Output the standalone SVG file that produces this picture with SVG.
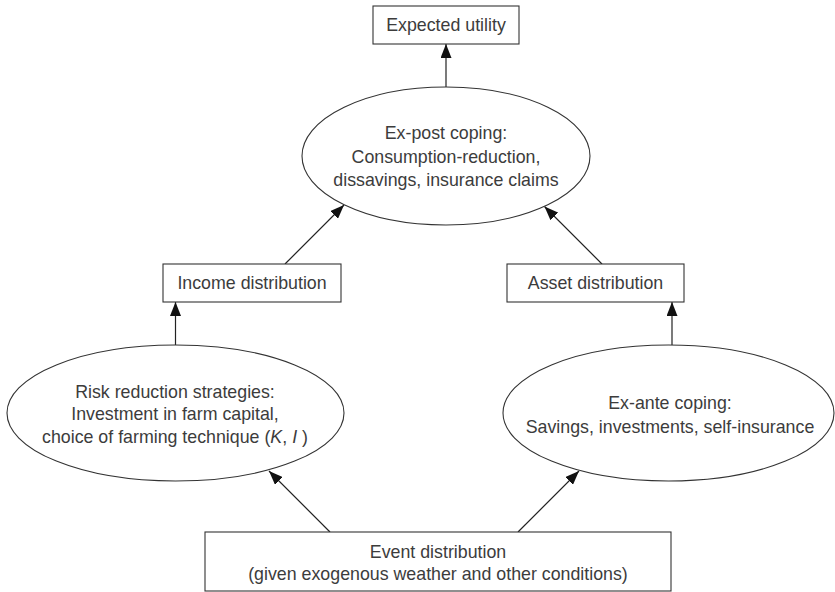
<svg xmlns="http://www.w3.org/2000/svg" width="835" height="592" viewBox="0 0 835 592">
<style>
  .box { fill: #ffffff; stroke: #333333; stroke-width: 1.1; }
  .ell { fill: #ffffff; stroke: #333333; stroke-width: 1.1; }
  .lbl { font-family: "Liberation Sans", Arial, Helvetica, sans-serif; font-size: 17.8px; fill: #3c3c3c; text-anchor: middle; }
  .conn { stroke: #222222; stroke-width: 1.2; fill: none; marker-end: url(#arrow); }
</style>
<defs>
  <marker id="arrow" markerUnits="userSpaceOnUse" markerWidth="15" markerHeight="11" refX="14" refY="5.5" orient="auto">
    <path d="M0,0 L14,5.5 L0,11 z" fill="#111111"/>
  </marker>
</defs>
<rect width="835" height="592" fill="#ffffff"/>

<g id="connectors">
  <line class="conn" x1="446" y1="87" x2="446" y2="44"/>
  <line class="conn" x1="285" y1="264" x2="344" y2="205"/>
  <line class="conn" x1="602" y1="264" x2="544.5" y2="206.5"/>
  <line class="conn" x1="175.5" y1="345" x2="175.5" y2="302"/>
  <line class="conn" x1="672" y1="345" x2="672" y2="302"/>
  <line class="conn" x1="330" y1="532" x2="269" y2="471"/>
  <line class="conn" x1="518" y1="532" x2="579" y2="471"/>
</g>

<g id="expected-utility">
  <rect class="box" x="373" y="6" width="146" height="38"/>
  <text class="lbl" x="446" y="31">Expected utility</text>
</g>

<g id="ex-post-coping">
  <ellipse class="ell" cx="446" cy="156" rx="144" ry="69"/>
  <text class="lbl" x="446" y="139">Ex-post coping:</text>
  <text class="lbl" x="446" y="163">Consumption-reduction,</text>
  <text class="lbl" x="446" y="186">dissavings, insurance claims</text>
</g>

<g id="income-distribution">
  <rect class="box" x="163" y="264" width="178" height="38"/>
  <text class="lbl" x="252" y="289">Income distribution</text>
</g>

<g id="asset-distribution">
  <rect class="box" x="507" y="264" width="177" height="38"/>
  <text class="lbl" x="595.5" y="289">Asset distribution</text>
</g>

<g id="risk-reduction">
  <ellipse class="ell" cx="175.5" cy="413" rx="168.5" ry="68"/>
  <text class="lbl" x="175" y="398">Risk reduction strategies:</text>
  <text class="lbl" x="175" y="420">Investment in farm capital,</text>
  <text class="lbl" x="175" y="443">choice of farming technique (<tspan font-style="italic">K</tspan>, <tspan font-style="italic">I</tspan> )</text>
</g>

<g id="ex-ante-coping">
  <ellipse class="ell" cx="668.5" cy="413" rx="165.5" ry="68"/>
  <text class="lbl" x="670" y="409">Ex-ante coping:</text>
  <text class="lbl" x="670" y="433">Savings, investments, self-insurance</text>
</g>

<g id="event-distribution">
  <rect class="box" x="205" y="532" width="466" height="59"/>
  <text class="lbl" x="438" y="558">Event distribution</text>
  <text class="lbl" x="438" y="580">(given exogenous weather and other conditions)</text>
</g>
</svg>
